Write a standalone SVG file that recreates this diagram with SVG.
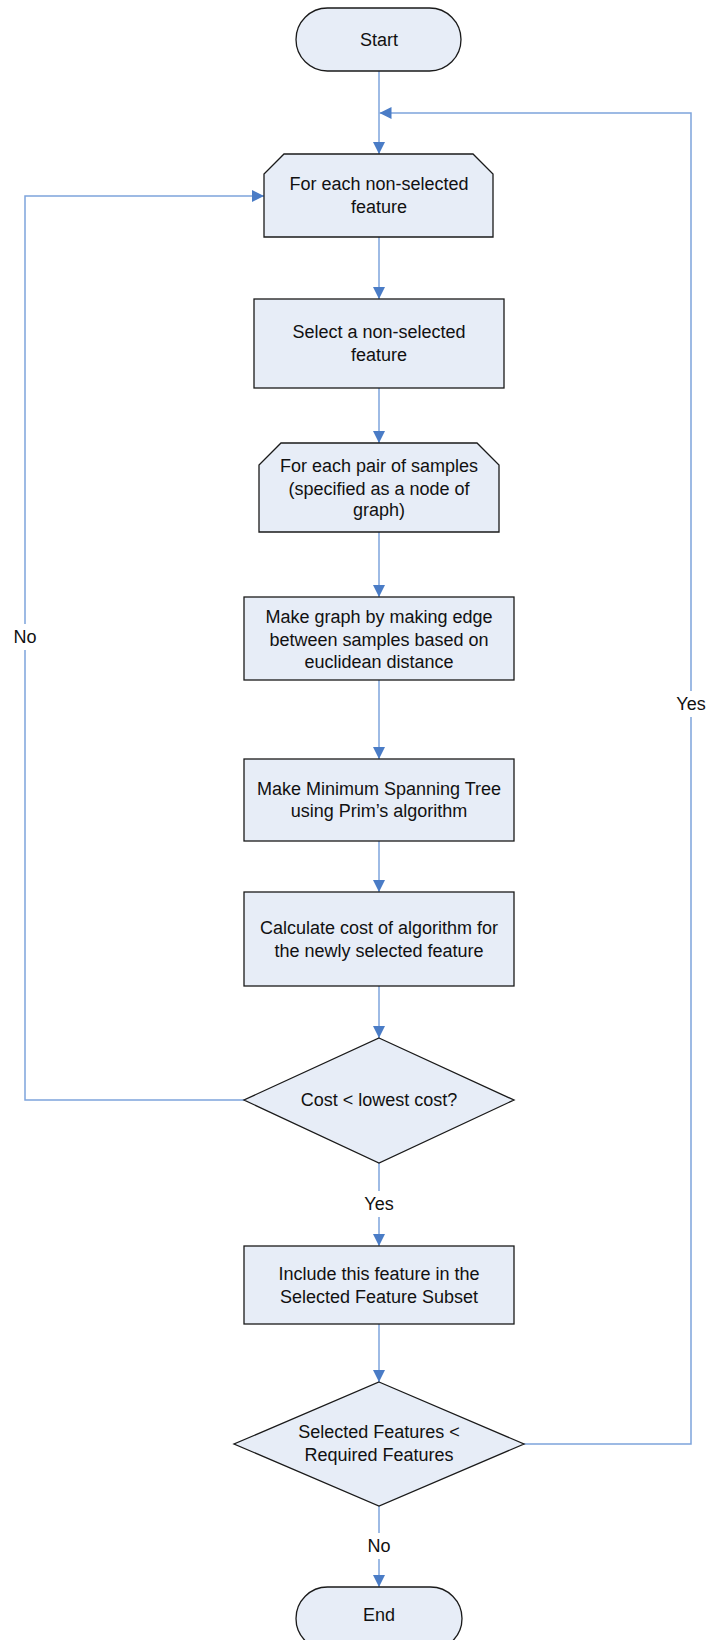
<svg xmlns="http://www.w3.org/2000/svg" width="709" height="1640" viewBox="0 0 709 1640">
<defs>
<style>
.n{fill:#E7EDF7;stroke:#1a1a1a;stroke-width:1.3}
.t{font-family:"Liberation Sans",Arial,sans-serif;font-size:18px;fill:#111;text-anchor:middle;dominant-baseline:central}
.c{fill:none;stroke:#7EA4DC;stroke-width:1.5}
.lbl{fill:#fff}
</style>
<marker id="ah" markerWidth="12" markerHeight="12" refX="12" refY="6" orient="auto" markerUnits="userSpaceOnUse" viewBox="0 0 12 12">
<path d="M0,0 L12,6 L0,12 Z" fill="#4A7CC6"/>
</marker>
</defs>
<rect width="709" height="1640" fill="#fff"/>
<g id="connectors">
<path class="c" d="M379,71 V154" marker-end="url(#ah)"/>
<path class="c" d="M379,237 V299" marker-end="url(#ah)"/>
<path class="c" d="M379,388 V443" marker-end="url(#ah)"/>
<path class="c" d="M379,532 V597" marker-end="url(#ah)"/>
<path class="c" d="M379,680 V759" marker-end="url(#ah)"/>
<path class="c" d="M379,841 V892" marker-end="url(#ah)"/>
<path class="c" d="M379,986 V1038" marker-end="url(#ah)"/>
<path class="c" d="M244,1100 H25 V196 H264" marker-end="url(#ah)"/>
<path class="c" d="M379,1163 V1246" marker-end="url(#ah)"/>
<path class="c" d="M379,1324 V1382" marker-end="url(#ah)"/>
<path class="c" d="M524,1444 H691 V113 H379.5" marker-end="url(#ah)"/>
<path class="c" d="M379,1506 V1587" marker-end="url(#ah)"/>
<rect class="lbl" x="10" y="624" width="30" height="26"/>
<text class="t" x="25" y="637">No</text>
<rect class="lbl" x="672" y="691" width="38" height="26"/>
<text class="t" x="691" y="704">Yes</text>
<rect class="lbl" x="360" y="1191" width="38" height="26"/>
<text class="t" x="379" y="1204">Yes</text>
<rect class="lbl" x="364" y="1533" width="30" height="26"/>
<text class="t" x="379" y="1546">No</text>
</g>
<g id="start">
<rect class="n" x="296" y="8" width="165" height="63" rx="31.5" ry="31.5"/>
<text class="t" x="379" y="39.5">Start</text>
</g>
<g id="loop-features">
<path class="n" d="M284,154 H473 L493,174 V237 H264 V174 Z"/>
<text class="t" x="379" y="184">For each non-selected</text>
<text class="t" x="379" y="207">feature</text>
</g>
<g id="select-feature">
<rect class="n" x="254" y="299" width="250" height="89"/>
<text class="t" x="379" y="332">Select a non-selected</text>
<text class="t" x="379" y="355">feature</text>
</g>
<g id="loop-pairs">
<path class="n" d="M281,443 H477 L499,465 V532 H259 V465 Z"/>
<text class="t" x="379" y="466">For each pair of samples</text>
<text class="t" x="379" y="488.5">(specified as a node of</text>
<text class="t" x="379" y="510">graph)</text>
</g>
<g id="make-graph">
<rect class="n" x="244" y="597" width="270" height="83"/>
<text class="t" x="379" y="617">Make graph by making edge</text>
<text class="t" x="379" y="639.5">between samples based on</text>
<text class="t" x="379" y="662">euclidean distance</text>
</g>
<g id="mst">
<rect class="n" x="244" y="759" width="270" height="82"/>
<text class="t" x="379" y="788.5">Make Minimum Spanning Tree</text>
<text class="t" x="379" y="811">using Prim’s algorithm</text>
</g>
<g id="calc-cost">
<rect class="n" x="244" y="892" width="270" height="94"/>
<text class="t" x="379" y="928">Calculate cost of algorithm for</text>
<text class="t" x="379" y="950.5">the newly selected feature</text>
</g>
<g id="cost-decision">
<path class="n" d="M379,1038 L514,1100 L379,1163 L244,1100 Z"/>
<text class="t" x="379" y="1100">Cost &lt; lowest cost?</text>
</g>
<g id="include-feature">
<rect class="n" x="244" y="1246" width="270" height="78"/>
<text class="t" x="379" y="1274">Include this feature in the</text>
<text class="t" x="379" y="1296.5">Selected Feature Subset</text>
</g>
<g id="count-decision">
<path class="n" d="M379,1382 L524,1444 L379,1506 L234,1444 Z"/>
<text class="t" x="379" y="1432">Selected Features &lt;</text>
<text class="t" x="379" y="1455">Required Features</text>
</g>
<g id="end">
<rect class="n" x="296" y="1587" width="166" height="63" rx="31.5" ry="31.5"/>
<text class="t" x="379" y="1615">End</text>
</g>
</svg>
